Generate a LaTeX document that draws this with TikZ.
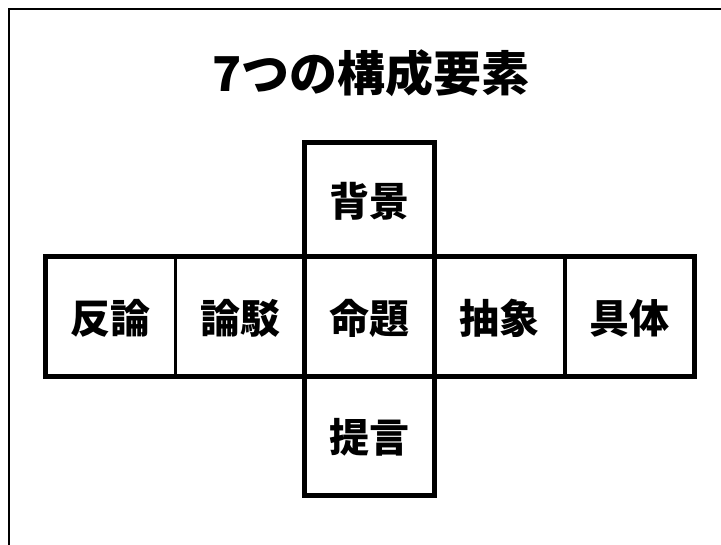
\documentclass[tikz,border=0pt]{standalone}
\usepackage{fontspec}
\newfontfamily\cjk{Noto Sans CJK JP}
\begin{document}
\begin{tikzpicture}[x=1pt,y=-1pt,
  cell/.style={minimum width=130pt,minimum height=119.3pt,inner sep=0pt,font=\cjk\bfseries\fontsize{40}{42}\selectfont},
  outer/.style={line width=5pt},
  divider/.style={line width=3.4pt},
  frameline/.style={line width=2.8pt}]
\useasboundingbox (0,0) rectangle (721,545);
\coordinate (ftl) at (9,9);
\coordinate (ftr) at (725,9);
\coordinate (fbl) at (9,549);
\draw[frameline] (fbl) -- (ftl) -- (ftr);
\node[font=\cjk\bfseries\fontsize{48}{50}\selectfont] (title) at (371,73) {7つの構成要素};
\node[cell] (hanron) at (110.2,318) {反論};
\node[cell,minimum width=128.8pt] (ronbaku) at (240.1,318) {論駁};
\node[cell] (meidai) at (369.5,318) {命題};
\node[cell] (chusho) at (499.6,318) {抽象};
\node[cell] (gutai) at (629.5,318) {具体};
\node[cell,minimum height=114.7pt] (haikei) at (369.5,201.1) {背景};
\node[cell] (teigen) at (369.5,437.1) {提言};
\draw[outer] ([yshift=1.5pt]hanron.north west) rectangle ([yshift=1.5pt]gutai.south east);
\draw[outer] ([yshift=1.5pt]haikei.north west) rectangle ([yshift=1.5pt]teigen.south east);
\draw[divider] ([yshift=1.5pt]hanron.north east) -- ([yshift=1.5pt]hanron.south east);
\draw[divider] ([yshift=1.5pt]chusho.north east) -- ([yshift=1.5pt]chusho.south east);
\end{tikzpicture}
\end{document}
